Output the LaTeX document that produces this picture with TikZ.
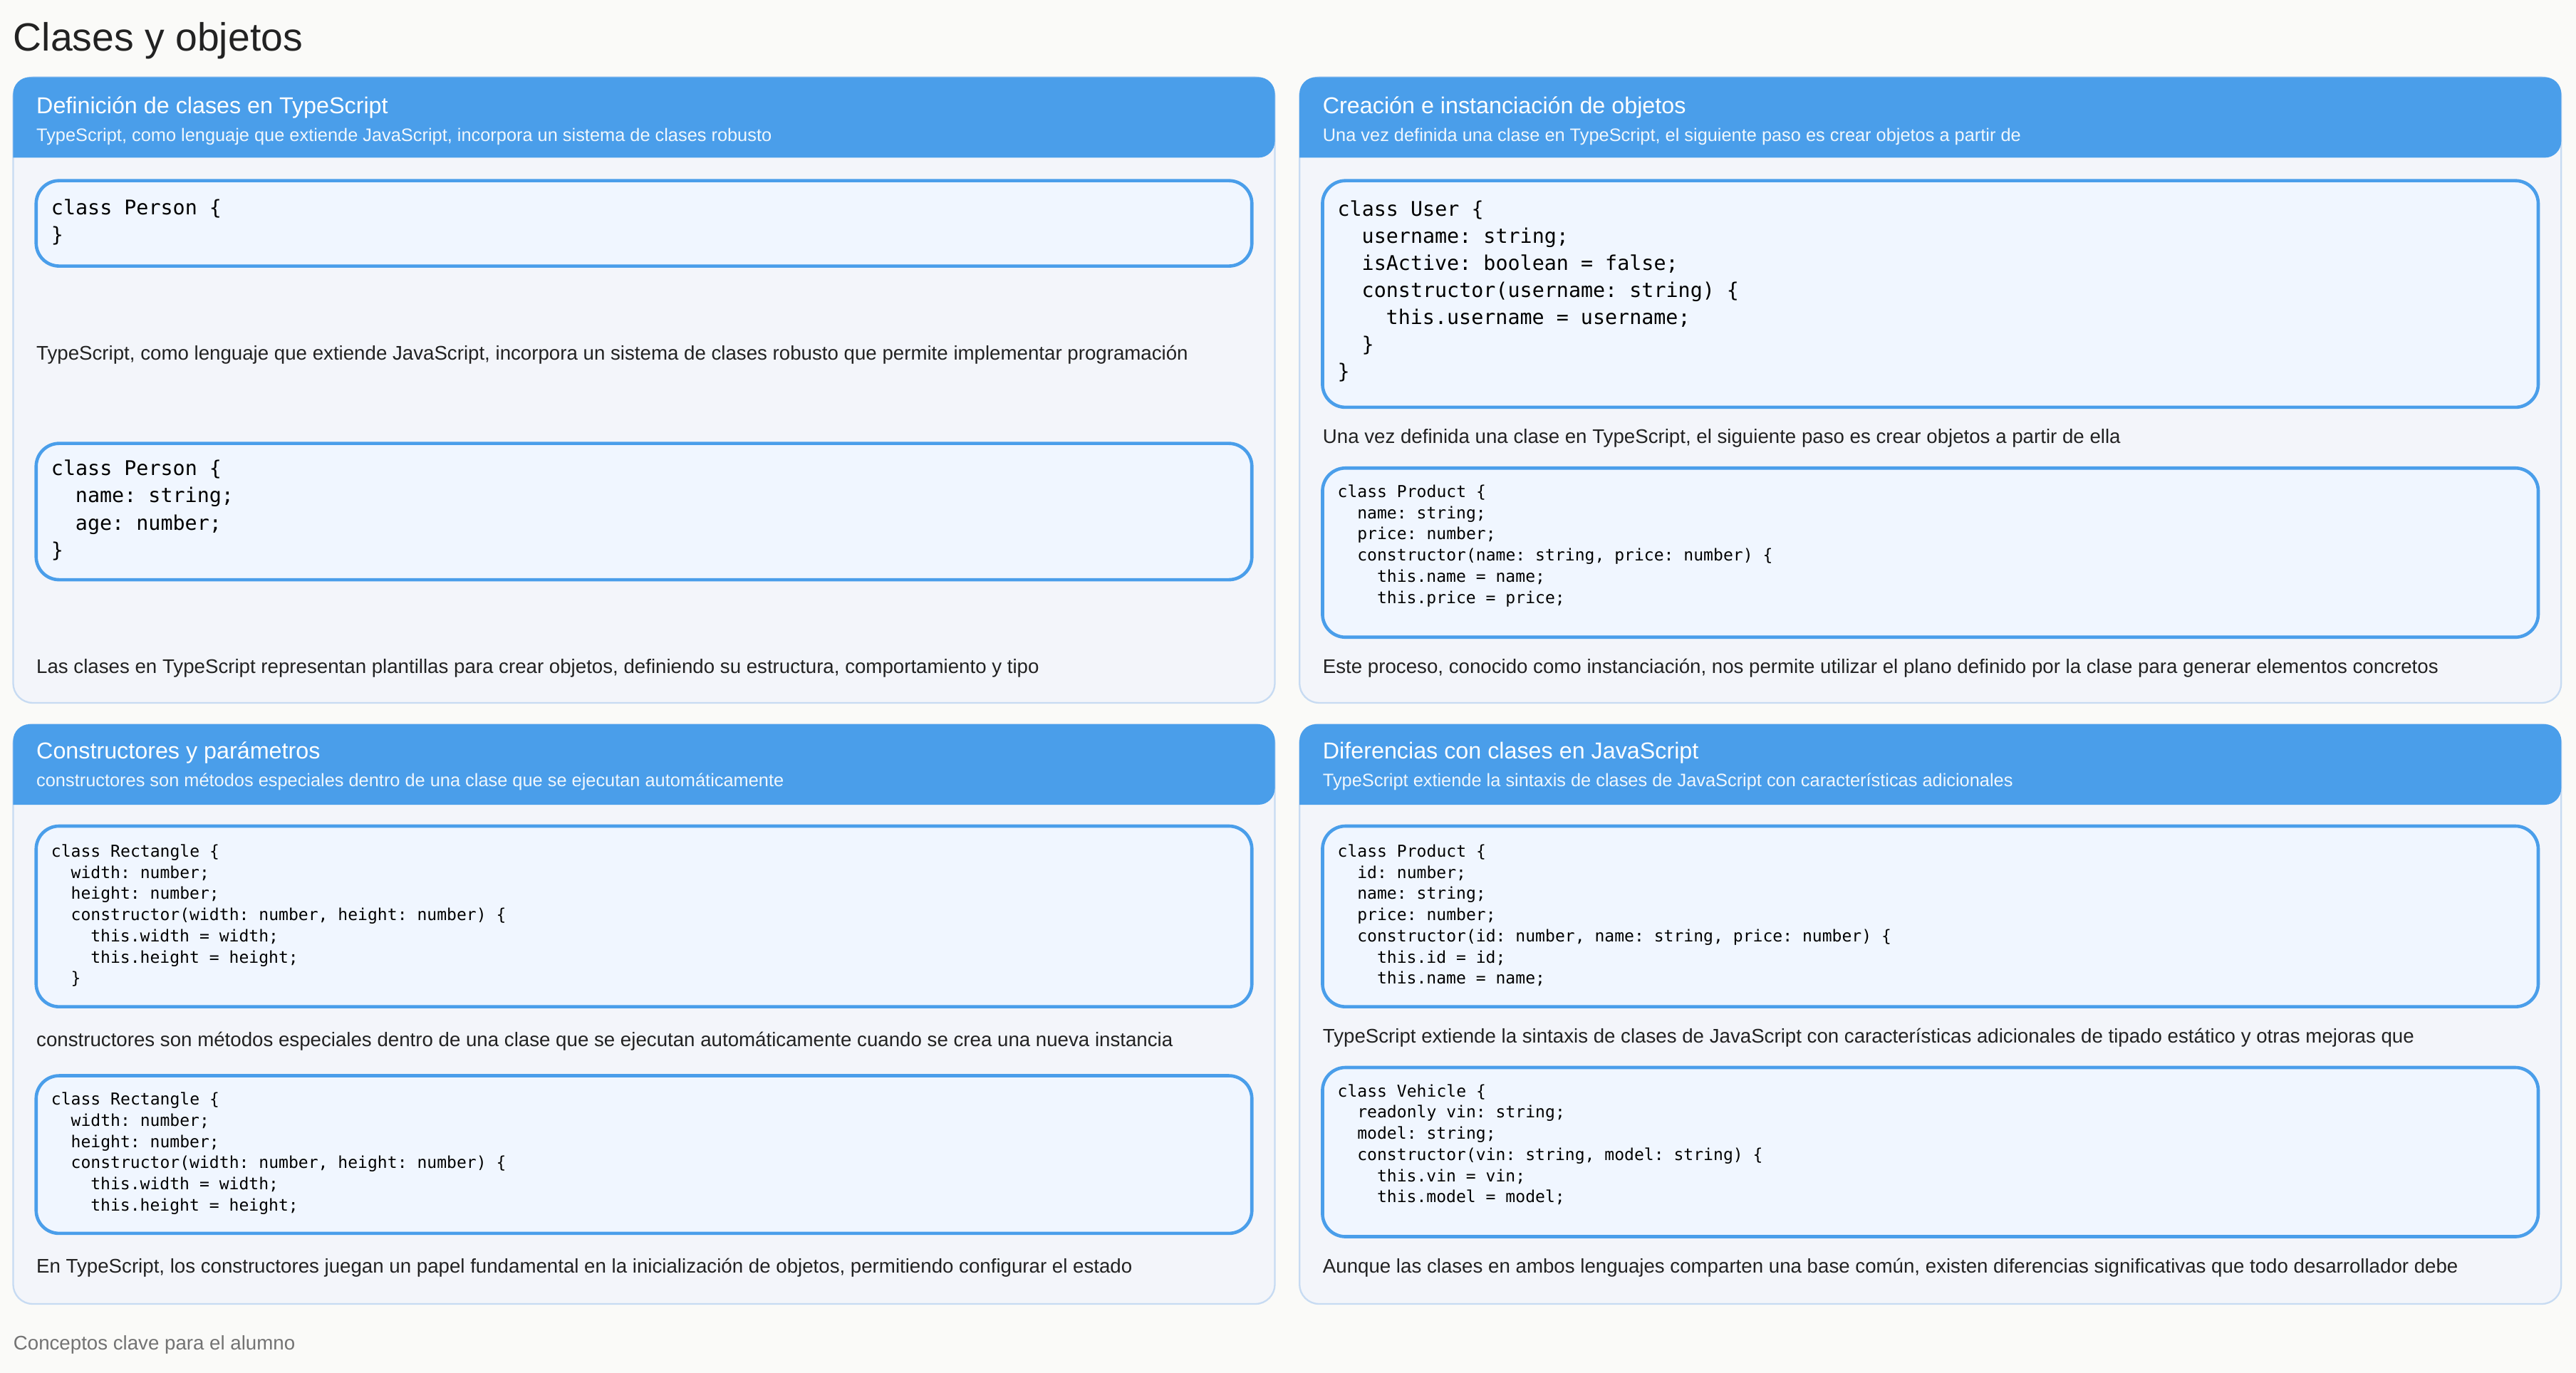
\documentclass[tikz,border=0pt]{standalone}
\usepackage{fontspec}
\setmainfont{Liberation Sans}
\setmonofont{DejaVu Sans Mono}
\usepackage{tikz}
\definecolor{headblue}{HTML}{4A9EEA}
\definecolor{panelfill}{HTML}{F3F5FA}
\definecolor{panelline}{HTML}{C7DBF2}
\definecolor{codefill}{HTML}{F0F6FF}
\definecolor{pagebg}{HTML}{FAFAF8}
\definecolor{inktext}{HTML}{222222}
\newcommand{\ind}{\hspace*{1.2em}}
\begin{document}
\begin{tikzpicture}
  [x=1pt, y=-1pt,
   panel/.style={draw=panelline, fill=panelfill, line width=1pt, rounded corners=12pt},
   codebox/.style={draw=headblue, fill=codefill, line width=2pt, rounded corners=14pt},
   headtitle/.style={anchor=base west, inner sep=0pt, text=white, font=\fontsize{14}{16}\selectfont},
   headsub/.style={anchor=base west, inner sep=0pt, text=white!92!headblue, font=\fontsize{11}{13}\selectfont},
   bodytext/.style={anchor=base west, inner sep=0pt, text=inktext, font=\fontsize{12}{14}\selectfont},
   bigcode/.style={anchor=north west, inner sep=0pt, align=left, text=black, font=\ttfamily\fontsize{12.3}{16.5}\selectfont},
   smallcode/.style={anchor=north west, inner sep=0pt, align=left, text=black, font=\ttfamily\fontsize{10}{12.9}\selectfont}]
  \fill [pagebg] (0,0) rectangle (1568,836);
  \useasboundingbox (0,0) rectangle (1568,836);
  \node (title) [anchor=base west, inner sep=0pt, text=inktext, font=\fontsize{24}{28}\selectfont] at (8,31) {Clases y objetos};
  % panels
  \foreach \px/\py/\ph in {8/47/381, 791/47/381, 8/441/353, 791/441/353} {
    \draw [panel] (\px,\py) rectangle ++(768,\ph);
    \fill [headblue, rounded corners=10pt] (\px,\py+49) -- (\px,\py) -- (\px+768,\py) -- (\px+768,\py+49) [sharp corners] -- cycle;
  }
  % panel 1
  \node (t1) [headtitle] at (22,69) {Definición de clases en TypeScript};
  \node (s1) [headsub] at (22,86) {TypeScript, como lenguaje que extiende JavaScript, incorpora un sistema de clases robusto};
  \draw [codebox] (22,110) rectangle (762,162);
  \node (c1a) [bigcode] at (31,121) {class Person \{\\\}};
  \node (b1a) [bodytext] at (22,219) {TypeScript, como lenguaje que extiende JavaScript, incorpora un sistema de clases robusto que permite implementar programación};
  \draw [codebox] (22,270) rectangle (762,353);
  \node (c1b) [bigcode] at (31,280) {class Person \{\\\ind name: string;\\\ind age: number;\\\}};
  \node (b1b) [bodytext] at (22,410) {Las clases en TypeScript representan plantillas para crear objetos, definiendo su estructura, comportamiento y tipo};
  % panel 2
  \node (t2) [headtitle] at (805,69) {Creación e instanciación de objetos};
  \node (s2) [headsub] at (805,86) {Una vez definida una clase en TypeScript, el siguiente paso es crear objetos a partir de};
  \draw [codebox] (805,110) rectangle (1545,248);
  \node (c2a) [bigcode] at (814,122) {class User \{\\\ind username: string;\\\ind isActive: boolean = false;\\\ind constructor(username: string) \{\\\ind\ind this.username = username;\\\ind\}\\\}};
  \node (b2a) [bodytext] at (805,270) {Una vez definida una clase en TypeScript, el siguiente paso es crear objetos a partir de ella};
  \draw [codebox] (805,285) rectangle (1545,388);
  \node (c2b) [smallcode] at (814,295) {class Product \{\\\ind name: string;\\\ind price: number;\\\ind constructor(name: string, price: number) \{\\\ind\ind this.name = name;\\\ind\ind this.price = price;};
  \node (b2b) [bodytext] at (805,410) {Este proceso, conocido como instanciación, nos permite utilizar el plano definido por la clase para generar elementos concretos};
  % panel 3
  \node (t3) [headtitle] at (22,462) {Constructores y parámetros};
  \node (s3) [headsub] at (22,479) {constructores son métodos especiales dentro de una clase que se ejecutan automáticamente};
  \draw [codebox] (22,503) rectangle (762,613);
  \node (c3a) [smallcode] at (31,514) {class Rectangle \{\\\ind width: number;\\\ind height: number;\\\ind constructor(width: number, height: number) \{\\\ind\ind this.width = width;\\\ind\ind this.height = height;\\\ind\}};
  \node (b3a) [bodytext] at (22,637) {constructores son métodos especiales dentro de una clase que se ejecutan automáticamente cuando se crea una nueva instancia};
  \draw [codebox] (22,655) rectangle (762,751);
  \node (c3b) [smallcode] at (31,665) {class Rectangle \{\\\ind width: number;\\\ind height: number;\\\ind constructor(width: number, height: number) \{\\\ind\ind this.width = width;\\\ind\ind this.height = height;};
  \node (b3b) [bodytext] at (22,775) {En TypeScript, los constructores juegan un papel fundamental en la inicialización de objetos, permitiendo configurar el estado};
  % panel 4
  \node (t4) [headtitle] at (805,462) {Diferencias con clases en JavaScript};
  \node (s4) [headsub] at (805,479) {TypeScript extiende la sintaxis de clases de JavaScript con características adicionales};
  \draw [codebox] (805,503) rectangle (1545,613);
  \node (c4a) [smallcode] at (814,514) {class Product \{\\\ind id: number;\\\ind name: string;\\\ind price: number;\\\ind constructor(id: number, name: string, price: number) \{\\\ind\ind this.id = id;\\\ind\ind this.name = name;};
  \node (b4a) [bodytext] at (805,635) {TypeScript extiende la sintaxis de clases de JavaScript con características adicionales de tipado estático y otras mejoras que};
  \draw [codebox] (805,650) rectangle (1545,753);
  \node (c4b) [smallcode] at (814,660) {class Vehicle \{\\\ind readonly vin: string;\\\ind model: string;\\\ind constructor(vin: string, model: string) \{\\\ind\ind this.vin = vin;\\\ind\ind this.model = model;};
  \node (b4b) [bodytext] at (805,775) {Aunque las clases en ambos lenguajes comparten una base común, existen diferencias significativas que todo desarrollador debe};
  % footer
  \node (foot) [anchor=base west, inner sep=0pt, text=black!55, font=\fontsize{12}{14}\selectfont] at (8,822) {Conceptos clave para el alumno};
\end{tikzpicture}
\end{document}
